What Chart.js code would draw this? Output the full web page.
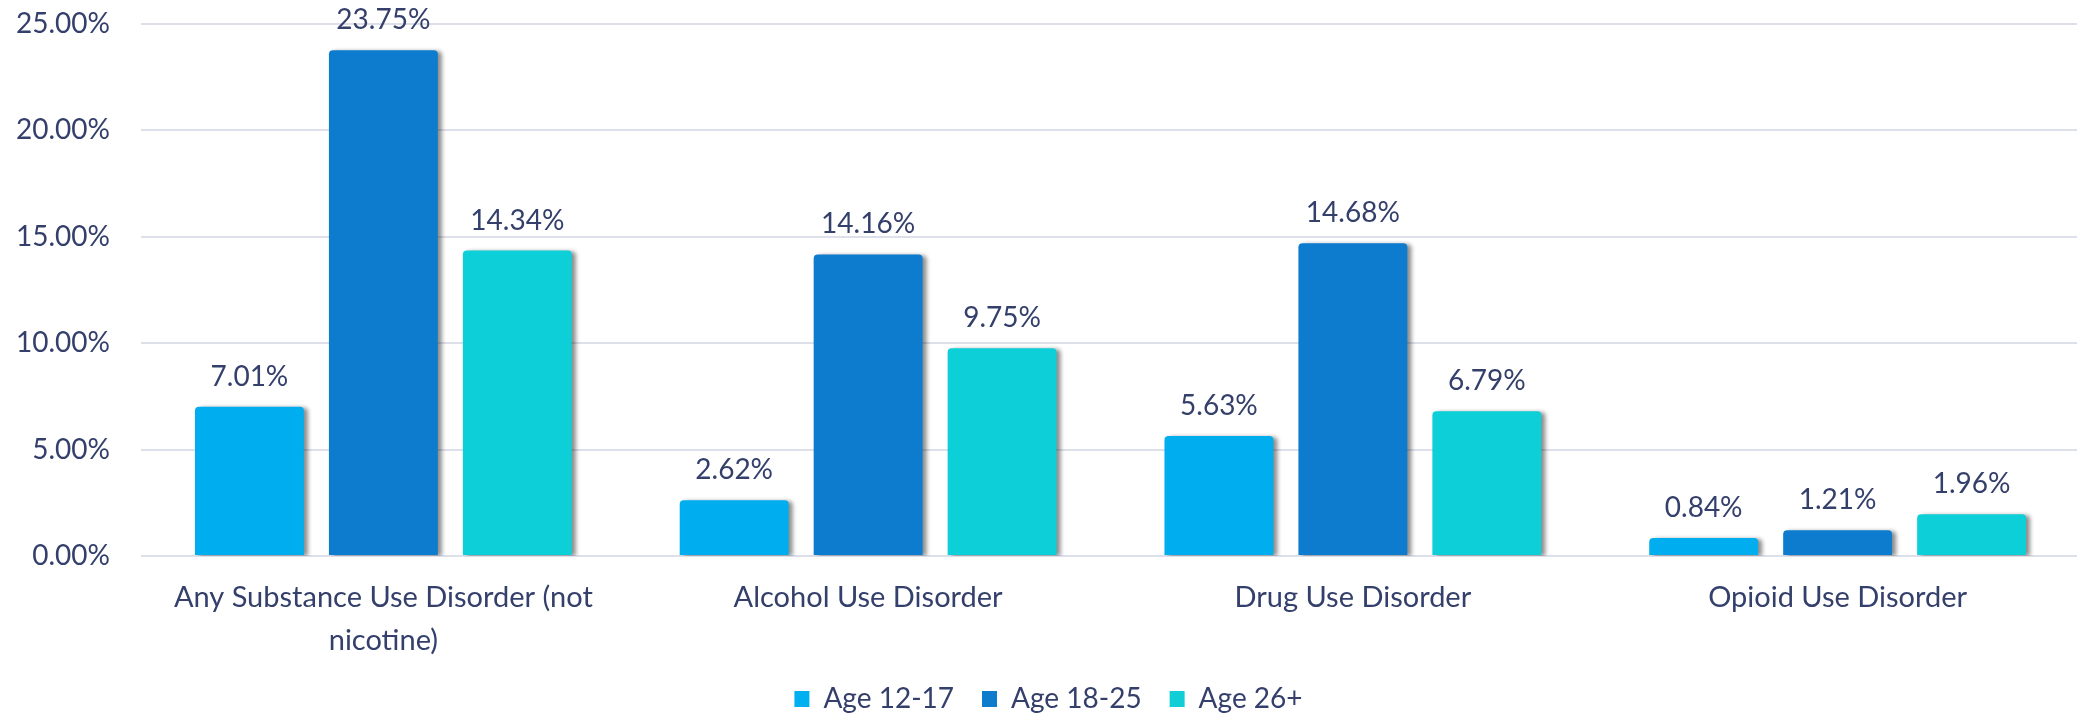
<!DOCTYPE html>
<html>
<head>
<meta charset="utf-8">
<script src="https://cdn.jsdelivr.net/npm/chart.js@4.4.1/dist/chart.umd.min.js"></script>
<style>
  html, body { margin: 0; padding: 0; background: #ffffff; overflow: hidden; }
  #wrap { position: absolute; left: 0; top: 0; width: 2116px; height: 714px; }
</style>
</head>
<body>
<div id="wrap"><canvas id="chart" width="2116" height="714"></canvas></div>
<script>
// Prevalence of substance use disorders by age group (percent)
const categories = [
  ['Any Substance Use Disorder (not', 'nicotine)'],
  'Alcohol Use Disorder',
  'Drug Use Disorder',
  'Opioid Use Disorder'
];
const seriesNames = ['Age 12-17', 'Age 18-25', 'Age 26+'];
const age12to17 = [7.01, 2.62, 5.63, 0.84];
const age18to25 = [23.75, 14.16, 14.68, 1.21];
const age26plus = [14.34, 9.75, 6.79, 1.96];
const yTicks = [0, 5, 10, 15, 20, 25];

const TEXT = '#34406B';
const FONT = 'Lato, "Open Sans", sans-serif';

const canvas = document.getElementById('chart');
const ctx = canvas.getContext('2d');

// Soft diagonal gradient per bar
function barFill(c1, c2) {
  return (context) => {
    const el = context.element;
    if (!el || el.base === undefined) return c2;
    const g = context.chart.ctx.createLinearGradient(el.x - el.width / 2, el.y, el.x + el.width / 2, el.base);
    g.addColorStop(0, c1);
    g.addColorStop(1, c2);
    return g;
  };
}

// Drop shadow behind the bars
const barShadow = {
  id: 'barShadow',
  beforeDatasetsDraw(chart) {
    const c = chart.ctx;
    c.save();
    c.shadowColor = 'rgba(0,0,0,0.45)';
    c.shadowBlur = 4;
    c.shadowOffsetX = 4;
    c.shadowOffsetY = 1;
  },
  afterDatasetsDraw(chart) {
    chart.ctx.restore();
  }
};

// Value labels above each bar
const valueLabels = {
  id: 'valueLabels',
  afterDatasetsDraw(chart) {
    const c = chart.ctx;
    c.save();
    c.font = '28px ' + FONT;
    c.fillStyle = TEXT;
    c.textAlign = 'center';
    c.textBaseline = 'alphabetic';
    chart.data.datasets.forEach((ds, i) => {
      chart.getDatasetMeta(i).data.forEach((bar, j) => {
        c.fillText(ds.data[j].toFixed(2) + '%', bar.x, bar.y - 21);
      });
    });
    c.restore();
  }
};

new Chart(ctx, {
  type: 'bar',
  data: {
    labels: categories,
    datasets: [
      { label: seriesNames[0], data: age12to17, backgroundColor: barFill('#12B4EE', '#00ADEE') },
      { label: seriesNames[1], data: age18to25, backgroundColor: barFill('#1E86D0', '#0D7CCF') },
      { label: seriesNames[2], data: age26plus, backgroundColor: barFill('#22CAD6', '#0CCFD8') }
    ].map(d => Object.assign(d, {
      borderRadius: { topLeft: 4, topRight: 4, bottomLeft: 0, bottomRight: 0 },
      borderSkipped: 'bottom',
      barPercentage: 0.813,
      categoryPercentage: 0.829
    }))
  },
  options: {
    responsive: false,
    devicePixelRatio: 1,
    animation: false,
    layout: { padding: { left: 17, right: 36, top: 23.5, bottom: -9 } },
    scales: {
      x: {
        grid: { display: false, drawTicks: false },
        border: { display: false },
        ticks: {
          color: TEXT,
          font: { family: FONT, size: 29, lineHeight: 1.48 },
          padding: 20,
          maxRotation: 0,
          autoSkip: false
        },
        afterFit(axis) {
          axis.height = 101;
          axis.paddingLeft = 0;
          axis.paddingRight = 0;
        }
      },
      y: {
        min: 0,
        max: 25,
        afterBuildTicks(axis) { axis.ticks = yTicks.map(v => ({ value: v })); },
        grid: { color: '#DDE0EB', lineWidth: 2, drawTicks: false },
        border: { display: false },
        ticks: {
          color: TEXT,
          font: { family: FONT, size: 28 },
          padding: 31,
          callback: (v) => Number(v).toFixed(2) + '%'
        },
        afterFit(axis) {
          axis.width = 124;
          axis.paddingTop = 0;
          axis.paddingBottom = 0;
        }
      }
    },
    plugins: {
      legend: {
        position: 'bottom',
        labels: {
          color: TEXT,
          font: { family: FONT, size: 28 },
          boxWidth: 15,
          boxHeight: 16,
          padding: 28,
          generateLabels(chart) {
            const fills = ['#00B0F0', '#0F7BCC', '#11CDD6'];
            return chart.data.datasets.map((d, i) => ({
              text: d.label,
              fillStyle: fills[i],
              strokeStyle: fills[i],
              lineWidth: 0,
              fontColor: TEXT,
              datasetIndex: i,
              hidden: false
            }));
          }
        }
      },
      tooltip: { enabled: false }
    }
  },
  plugins: [barShadow, valueLabels]
});
</script>
</body>
</html>
